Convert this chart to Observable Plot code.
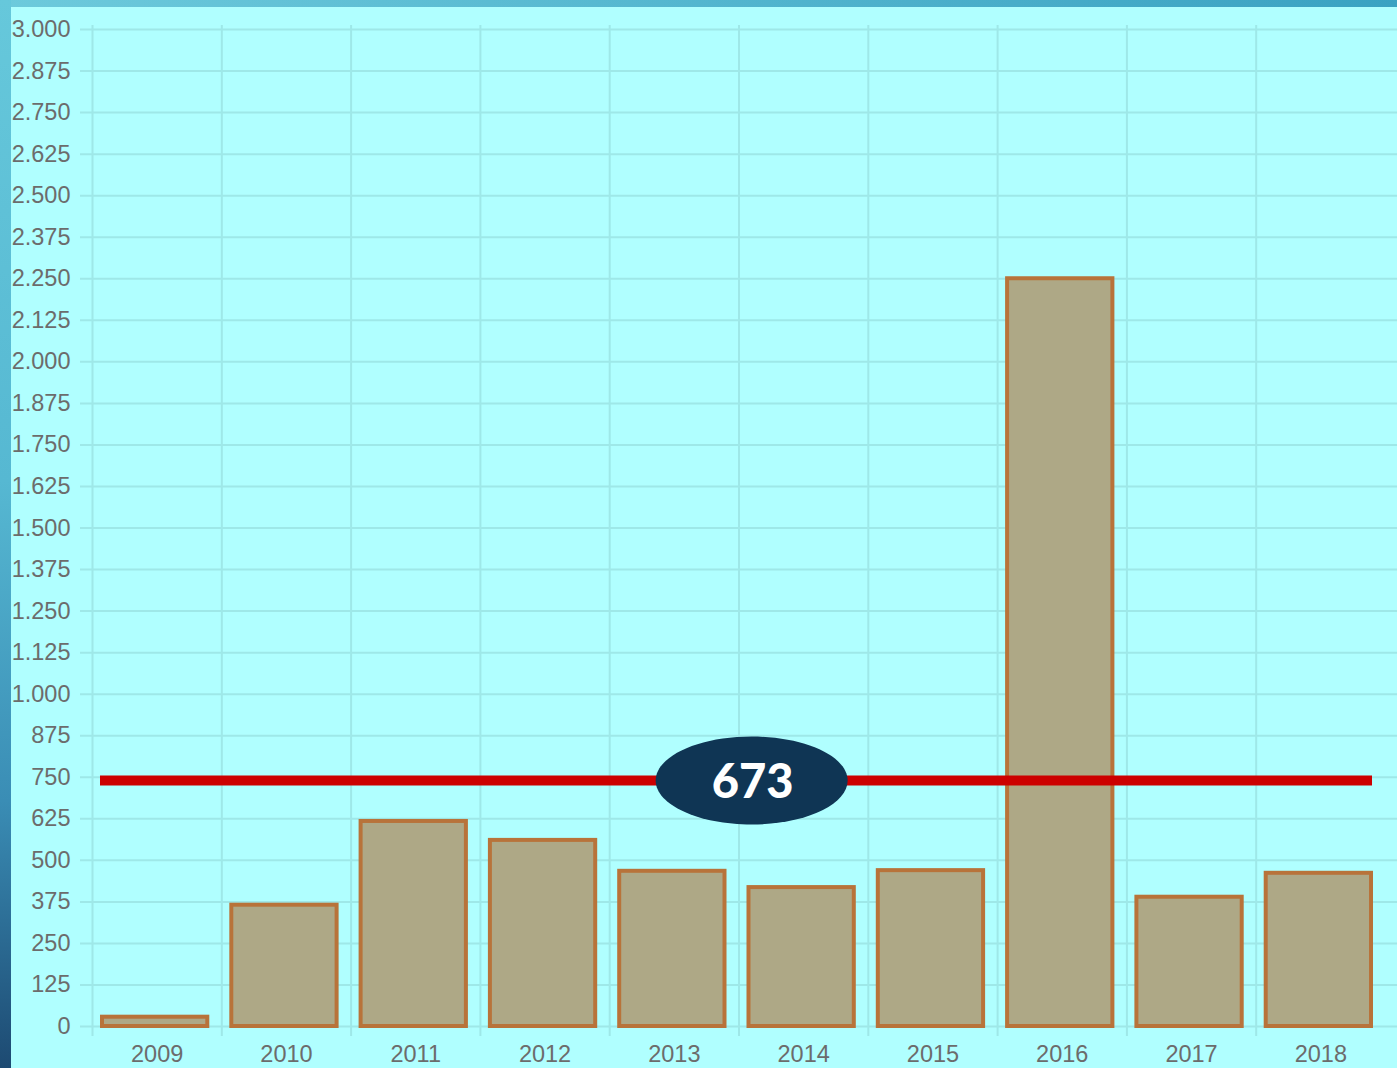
<!DOCTYPE html>
<html><head><meta charset="utf-8">
<script src="https://cdn.jsdelivr.net/npm/d3@7"></script>
<script src="https://cdn.jsdelivr.net/npm/@observablehq/plot@0.6"></script>
<style>
html,body{margin:0;padding:0;background:#b0ffff;}
#wrap{position:relative;width:1397px;height:1068px;overflow:hidden;background:#b0ffff;}
#chart{position:absolute;left:0;top:0;}
#left{position:absolute;left:0;top:0;width:11px;height:1068px;background:linear-gradient(#66c8db,#56b8d2 45%,#3a8db5 75%,#1d4a72);}
#top{position:absolute;left:0;top:0;width:1397px;height:7px;background:linear-gradient(90deg,#6dcadc,#3aa2c2);}
</style></head><body><div id="wrap"><div id="chart"></div><div id="top"></div><div id="left"></div></div>
<script>
const years = ["2009","2010","2011","2012","2013","2014","2015","2016","2017","2018"];
const values = [28, 365, 617, 560, 467, 418, 469, 2250, 389, 461];
const yTicks = [0,125,250,375,500,625,750,875,1000,1125,1250,1375,1500,1625,1750,1875,2000,2125,2250,2375,2500,2625,2750,2875,3000];
const averageLine = [740];
const averageLabel = ["673"];

const data = years.map((year, i) => ({year, value: values[i]}));
const fmt = d3.formatLocale({decimal: ",", thousands: ".", grouping: [3], currency: ["", ""]}).format(",d");
const W = 1397, H = 1068, mL = 92, mR = 12, mT = 29, mB = 42;
const bw = (W - mL - mR) / years.length;
const gridColor = "#9ee8e8";

const k = 0.5522847498;
const ellipseSymbol = {draw(ctx) {
  const rx = 96, ry = 44;
  ctx.moveTo(rx, 0);
  ctx.bezierCurveTo(rx, ry * k, rx * k, ry, 0, ry);
  ctx.bezierCurveTo(-rx * k, ry, -rx, ry * k, -rx, 0);
  ctx.bezierCurveTo(-rx, -ry * k, -rx * k, -ry, 0, -ry);
  ctx.bezierCurveTo(rx * k, -ry, rx, -ry * k, rx, 0);
  ctx.closePath();
}};

const chart = Plot.plot({
  width: W, height: H, marginLeft: mL, marginRight: mR, marginTop: mT, marginBottom: mB,
  style: {background: "transparent", fontFamily: "'Liberation Sans', Arial, sans-serif", fontSize: "23.5px", color: "#6c6c6c", overflow: "visible"},
  x: {type: "band", domain: years, padding: 0, round: false, label: null},
  y: {domain: [0, 3000], label: null},
  marks: [
    Plot.ruleY(yTicks, {stroke: gridColor, strokeWidth: 2, insetLeft: -12, insetRight: -12}),
    Plot.ruleX(years, {x: d => d, stroke: gridColor, strokeWidth: 2, dx: -bw / 2, insetTop: -4, insetBottom: -10}),
    Plot.axisY({ticks: yTicks, tickSize: 0, tickPadding: 22, tickFormat: fmt, fill: "#6c6c6c", label: null}),
    Plot.axisX({tickSize: 0, tickPadding: 19, fill: "#6c6c6c", label: null}),
    Plot.barY(data, {x: "year", y: "value", fill: "#aea886", stroke: "#b8733a", strokeWidth: 4, insetLeft: 10, insetRight: 14}),
    Plot.ruleY(averageLine, {stroke: "#cc0000", strokeWidth: 10, insetLeft: 8, insetRight: 13}),
    Plot.dot(averageLine, {x: () => "2014", y: d => d, dx: -52, symbol: ellipseSymbol, fill: "#0f3554", stroke: "none"}),
    Plot.text(averageLabel, {x: () => "2014", y: () => averageLine[0], text: d => d, dx: -51, dy: 2, fill: "white", fontSize: 47, fontWeight: 900, fontFamily: "Lato, 'Open Sans', sans-serif", style: {letterSpacing: "1px"}})
  ]
});
document.getElementById("chart").appendChild(chart);
</script></body></html>
